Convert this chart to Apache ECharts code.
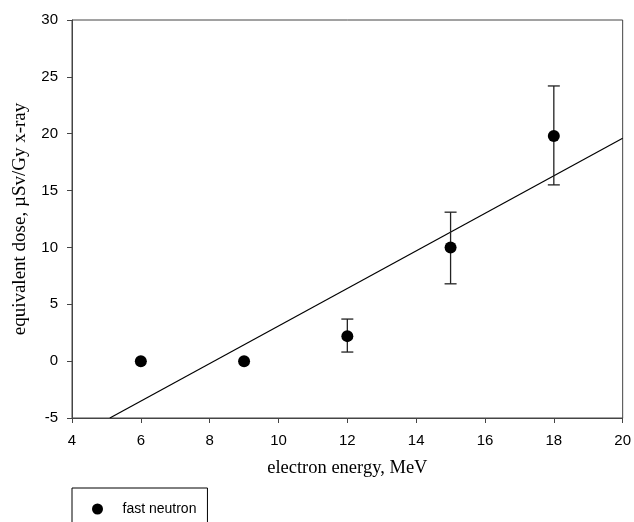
<!DOCTYPE html>
<html>
<head>
<meta charset="utf-8">
<script src="https://cdn.jsdelivr.net/npm/echarts@6/dist/echarts.min.js"></script>
<style>html,body{margin:0;padding:0;background:#fff;}#c{width:634px;height:522px;}</style>
</head>
<body>
<div id="c"></div>
<script>
var energies = [6, 9, 12, 15, 18];
var doses = [0, 0, 2.2, 10.0, 19.8];
var errLow = [null, null, 0.8, 6.8, 15.5];
var errHigh = [null, null, 3.7, 13.1, 24.2];
var fitX = [5.1, 20];
var fitY = [-5, 19.6];
var xTicks = {min: 4, max: 20, interval: 2};
var yTicks = {min: -5, max: 30, interval: 5};

var pts = energies.map(function (e, i) { return [e, doses[i]]; });
var errData = [];
energies.forEach(function (e, i) {
  if (errLow[i] !== null) errData.push([e, errLow[i], errHigh[i]]);
});
var fitData = fitX.map(function (x, i) { return [x, fitY[i]]; });

var chart = echarts.init(document.getElementById('c'));
chart.setOption({
  animation: false,
  backgroundColor: '#fff',
  grid: {left: 72, right: 9, top: 20, bottom: 104, show: true, borderColor: '#444', borderWidth: 1},
  legend: {
    data: ['fast neutron'],
    left: 72, top: 488,
    orient: 'vertical',
    itemWidth: 40, itemHeight: 11,
    padding: [14, 11, 20, 20],
    borderColor: '#000', borderWidth: 1,
    textStyle: {fontFamily: 'Liberation Sans', fontSize: 14, color: '#000'}
  },
  xAxis: {
    type: 'value', min: xTicks.min, max: xTicks.max, interval: xTicks.interval,
    name: 'electron energy, MeV', nameLocation: 'middle', nameGap: 41,
    nameTextStyle: {fontFamily: 'Liberation Serif', fontSize: 18.5, color: '#000'},
    axisLine: {onZero: false, lineStyle: {color: '#444', width: 1}},
    axisTick: {show: true, inside: false, length: 5, lineStyle: {color: '#444'}},
    axisLabel: {fontFamily: 'Liberation Sans', fontSize: 15, color: '#000', margin: 15},
    splitLine: {show: false}
  },
  yAxis: {
    type: 'value', min: yTicks.min, max: yTicks.max, interval: yTicks.interval,
    name: 'equivalent dose, µSv/Gy x-ray', nameLocation: 'middle', nameGap: 42,
    nameTextStyle: {fontFamily: 'Liberation Serif', fontSize: 19, color: '#000'},
    axisLine: {show: true, onZero: false, lineStyle: {color: '#444', width: 1}},
    axisTick: {show: true, inside: false, length: 5, lineStyle: {color: '#444'}},
    axisLabel: {fontFamily: 'Liberation Sans', fontSize: 15, color: '#000', margin: 14},
    splitLine: {show: false}
  },
  series: [
    {
      name: 'fit', type: 'line', data: fitData, symbol: 'none',
      lineStyle: {color: '#000', width: 1.2}, silent: true, z: 2
    },
    {
      name: 'err', type: 'custom', data: errData, z: 3,
      renderItem: function (params, api) {
        var x = api.value(0);
        var lo = api.coord([x, api.value(1)]);
        var hi = api.coord([x, api.value(2)]);
        var w = 6;
        var st = {stroke: '#222', lineWidth: 1.3};
        return {type: 'group', children: [
          {type: 'line', shape: {x1: lo[0], y1: lo[1], x2: hi[0], y2: hi[1]}, style: st},
          {type: 'line', shape: {x1: lo[0] - w, y1: lo[1], x2: lo[0] + w, y2: lo[1]}, style: st},
          {type: 'line', shape: {x1: hi[0] - w, y1: hi[1], x2: hi[0] + w, y2: hi[1]}, style: st}
        ]};
      }
    },
    {
      name: 'fast neutron', type: 'scatter', data: pts, symbol: 'circle', symbolSize: 12,
      itemStyle: {color: '#000', opacity: 1}, z: 4
    }
  ]
});
</script>
</body>
</html>
